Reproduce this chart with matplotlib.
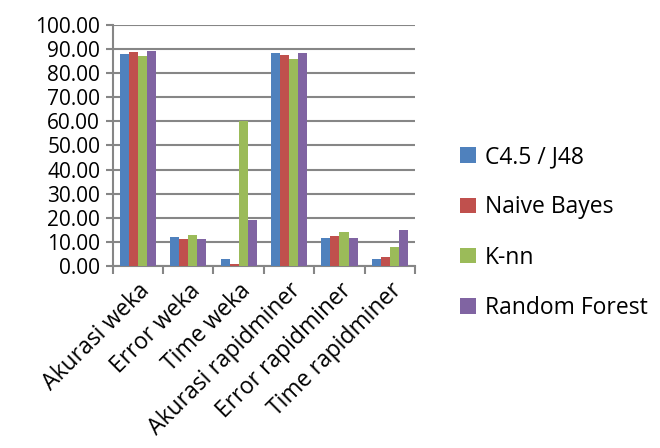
import numpy as np
import matplotlib
matplotlib.use('Agg')
import matplotlib.pyplot as plt
from matplotlib.ticker import FormatStrFormatter

plt.rcParams.update({'font.family': ['Open Sans', 'DejaVu Sans'], 'font.size': 15})

categories = ['Akurasi weka', 'Error weka', 'Time weka', 'Akurasi rapidminer', 'Error rapidminer', 'Time rapidminer']
series = ['C4.5 / J48', 'Naive Bayes', 'K-nn', 'Random Forest']
c45 = [87.7, 12.2, 2.9, 88.1, 11.6, 2.9]
nb = [88.7, 11.1, 0.8, 87.4, 12.4, 3.9]
knn = [87.0, 12.8, 60.0, 85.8, 14.1, 7.9]
rf = [89.0, 11.1, 19.1, 88.4, 11.5, 14.9]
colors = ['#4F81BD', '#C0504D', '#9BBB59', '#8064A2']

fig = plt.figure(figsize=(6.6, 4.48), dpi=100)
ax = fig.add_axes([0.1708, 0.406, 0.458, 0.539])
x = np.arange(len(categories))
w = 0.18
for i, (vals, lbl, c) in enumerate(zip([c45, nb, knn, rf], series, colors)):
    ax.bar(x + (i - 1.5) * w, vals, w, color=c, label=lbl, zorder=3)

ax.set_xlim(-0.5, len(categories) - 0.5)
ax.set_ylim(0, 100)
ax.set_yticks(np.arange(0, 101, 10))
ax.yaxis.set_major_formatter(FormatStrFormatter('%.2f'))
ax.grid(axis='y', color='#868686', lw=1.5, zorder=0)
for s in ['top', 'right']:
    ax.spines[s].set_visible(False)
for s in ['left', 'bottom']:
    ax.spines[s].set_color('#868686'); ax.spines[s].set_linewidth(1.5)
ax.tick_params(axis='y', length=5, width=1.5, color='#868686', pad=4)
# category boundaries get the tick marks, labels sit at the centres
ax.set_xticks(np.arange(-0.5, len(categories), 1))
ax.set_xticklabels([])
ax.tick_params(axis='x', which='major', length=6, width=1.5, color='#868686')
ax.set_xticks(x, minor=True)
ax.set_xticklabels(categories, minor=True, rotation=45, ha='right', va='top',
                   rotation_mode='anchor', fontsize=16.5)
ax.tick_params(axis='x', which='minor', length=0, pad=9)

fig.legend(loc='center left', bbox_to_anchor=(0.665, 0.481), frameon=False, fontsize=16.5,
           handlelength=0.7, handleheight=0.65, handletextpad=0.4, labelspacing=1.15)
fig.savefig('out.png')
